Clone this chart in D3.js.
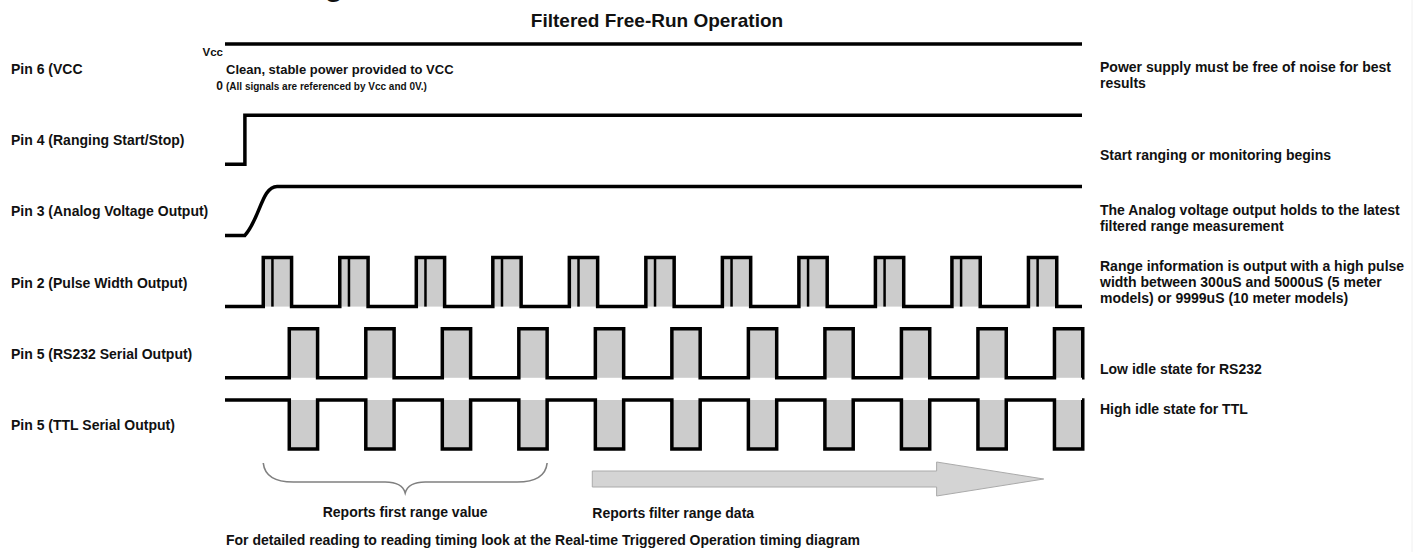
<!DOCTYPE html>
<html lang="en">
<head>
<meta charset="utf-8">
<title>Filtered Free-Run Operation</title>
<script src="https://cdn.jsdelivr.net/npm/d3@7"></script>
<style>
  body { margin: 0; background: #fff; }
  svg text { font-family: "Liberation Sans", Arial, Helvetica, sans-serif; font-weight: bold; fill: #111; }
</style>
</head>
<body>
<script>
// chart data
var title = "Filtered Free-Run Operation";
var rowLabels = ["Pin 6 (VCC", "Pin 4 (Ranging Start/Stop)", "Pin 3 (Analog Voltage Output)",
                 "Pin 2 (Pulse Width Output)", "Pin 5 (RS232 Serial Output)", "Pin 5 (TTL Serial Output)"];
var rowNotes = [
  ["Power supply must be free of noise for best", "results"],
  ["Start ranging or monitoring begins"],
  ["The Analog voltage output holds to the latest", "filtered range measurement"],
  ["Range information is output with a high pulse", "width between 300uS and 5000uS (5 meter", "models) or 9999uS (10 meter models)"],
  ["Low idle state for RS232"],
  ["High idle state for TTL"]
];
// timing, in pulse periods from the left edge
var tEnd = 11.2;
var startEdge = 0.26;          // pin 4 goes high
var analogRamp = [0.26, 0.68];  // pin 3 rises
var pwmStarts = [0.5, 1.5, 2.5, 3.5, 4.5, 5.5, 6.5, 7.5, 8.5, 9.5, 10.5];
var serialStarts = [0.84, 1.84, 2.84, 3.84, 4.84, 5.84, 6.84, 7.84, 8.84, 9.84, 10.84];
var pulseWidth = 0.37;
var pwmSplit = 0.12;
var firstGroup = [0.5, 4.21];   // "Reports first range value"
var filterArrow = [4.8, 9.3, 10.7];

// layout
var w = 1422, h = 552;
var noteDy = [23, 40, 24, 8, 40, 9];

var svg = d3.select("body").append("svg").attr("width", w).attr("height", h);

var x = d3.scaleLinear().domain([0, tEnd]).range([225, 1082]);
var row = d3.scalePoint().domain(d3.range(rowLabels.length)).range([44, 400]);
var lvl = d3.scaleLinear().domain([0, 1]).range([49, 0]);  // offset below the high level
function y(r, v) { return row(r) + lvl(v); }

// cut-off page heading (only a descender shows)
svg.append("text").attr("x", 343).attr("y", -4).attr("text-anchor", "end")
   .style("font-size", "30px").text("Timing");

svg.append("text").attr("x", 657).attr("y", 27).attr("text-anchor", "middle")
   .style("font-size", "19px").text(title);

// left labels
svg.selectAll("text.lab").data(rowLabels).enter().append("text")
   .attr("class", "lab").attr("x", 11).attr("y", function(d, i) { return row(i) + 30; })
   .style("font-size", "14px").text(function(d) { return d; });

// right notes
rowNotes.forEach(function(lines, i) {
  svg.append("g").selectAll("text").data(lines).enter().append("text")
     .attr("x", 1100).attr("y", function(d, j) { return row(i) + noteDy[i] + 5 + j * 16; })
     .style("font-size", "14px").text(function(d) { return d; });
});

var wave = svg.append("g").attr("fill", "none").attr("stroke", "#000")
              .attr("stroke-width", 3.5).attr("stroke-linejoin", "miter");

// pin 6 VCC
wave.append("path").attr("d", d3.line()([[x(0), y(0, 1)], [x(tEnd), y(0, 1)]]));
svg.append("text").attr("x", 223).attr("y", 56).attr("text-anchor", "end").style("font-size", "11.5px").text("Vcc");
svg.append("text").attr("x", 226).attr("y", 74).style("font-size", "13px").text("Clean, stable power provided to VCC");
svg.append("text").attr("x", 223).attr("y", 90).attr("text-anchor", "end").style("font-size", "12px").text("0");
svg.append("text").attr("x", 226).attr("y", 90).style("font-size", "10px").text("(All signals are referenced by Vcc and 0V.)");

// pin 4
wave.append("path").attr("d", d3.line()([
  [x(0), y(1, 0)], [x(startEdge), y(1, 0)], [x(startEdge), y(1, 1)], [x(tEnd), y(1, 1)]
]));

// pin 3 analog ramp
var p3 = d3.path();
p3.moveTo(x(0), y(2, 0));
p3.lineTo(x(analogRamp[0]), y(2, 0));
p3.bezierCurveTo(x(analogRamp[0] + 0.2), y(2, 0.35), x(analogRamp[0] + 0.22), y(2, 1), x(analogRamp[1]), y(2, 1));
p3.lineTo(x(tEnd), y(2, 1));
wave.append("path").attr("d", p3.toString());

// pulse trains
function train(r, starts, idleHigh) {
  var idle = idleHigh ? 1 : 0, act = 1 - idle;
  svg.insert("g", function() { return wave.node(); })
     .selectAll("rect").data(starts).enter().append("rect")
     .attr("x", function(d) { return x(d); }).attr("width", x(pulseWidth) - x(0))
     .attr("y", Math.min(y(r, 0), y(r, 1))).attr("height", Math.abs(y(r, 0) - y(r, 1)))
     .attr("fill", "#cccccc");
  var pts = [[x(0), y(r, idle)]];
  starts.forEach(function(s) {
    pts.push([x(s), y(r, idle)], [x(s), y(r, act)], [x(s + pulseWidth), y(r, act)], [x(s + pulseWidth), y(r, idle)]);
  });
  pts.push([x(tEnd), y(r, idle)]);
  wave.append("path").attr("d", d3.line()(pts));
}
train(3, pwmStarts, false);
train(4, serialStarts, false);
train(5, serialStarts, true);

// inner split line in each pulse width pulse
svg.append("g").selectAll("line").data(pwmStarts).enter().append("line")
   .attr("x1", function(d) { return x(d + pwmSplit); }).attr("x2", function(d) { return x(d + pwmSplit); })
   .attr("y1", y(3, 1)).attr("y2", y(3, 0))
   .attr("stroke", "#000").attr("stroke-width", 2.5);

// brace under the first reports
var bx0 = x(firstGroup[0]), bx1 = x(firstGroup[1]), bm = (bx0 + bx1) / 2;
var by0 = 463, by1 = 482, by2 = 493;
var br = d3.path();
br.moveTo(bx0, by0);
br.quadraticCurveTo(bx0 + 2, by1, bx0 + 30, by1);
br.lineTo(bm - 20, by1);
br.quadraticCurveTo(bm - 3, by1, bm, by2);
br.quadraticCurveTo(bm + 3, by1, bm + 20, by1);
br.lineTo(bx1 - 30, by1);
br.quadraticCurveTo(bx1 - 2, by1, bx1, by0);
svg.append("path").attr("d", br.toString()).attr("fill", "none").attr("stroke", "#808080").attr("stroke-width", 1.6);
svg.append("text").attr("x", bm).attr("y", 517).attr("text-anchor", "middle").style("font-size", "14px").text("Reports first range value");

// arrow for filtered data
var ay = 479;
svg.append("path")
   .attr("d", d3.line()([
     [x(filterArrow[0]), ay - 8], [x(filterArrow[1]), ay - 8], [x(filterArrow[1]), ay - 17],
     [x(filterArrow[2]), ay], [x(filterArrow[1]), ay + 17], [x(filterArrow[1]), ay + 8],
     [x(filterArrow[0]), ay + 8]
   ]) + "Z")
   .attr("fill", "#d4d4d4").attr("stroke", "#aaaaaa").attr("stroke-width", 1);
svg.append("text").attr("x", x(filterArrow[0])).attr("y", 518).style("font-size", "14px").text("Reports filter range data");

svg.append("text").attr("x", 226).attr("y", 545).style("font-size", "14px")
   .text("For detailed reading to reading timing look at the Real-time Triggered Operation timing diagram");

// faint page edge
svg.append("line").attr("x1", 1412).attr("x2", 1412).attr("y1", 0).attr("y2", h)
   .attr("stroke", "#f0f0f0").attr("stroke-width", 1);
</script>
</body>
</html>
